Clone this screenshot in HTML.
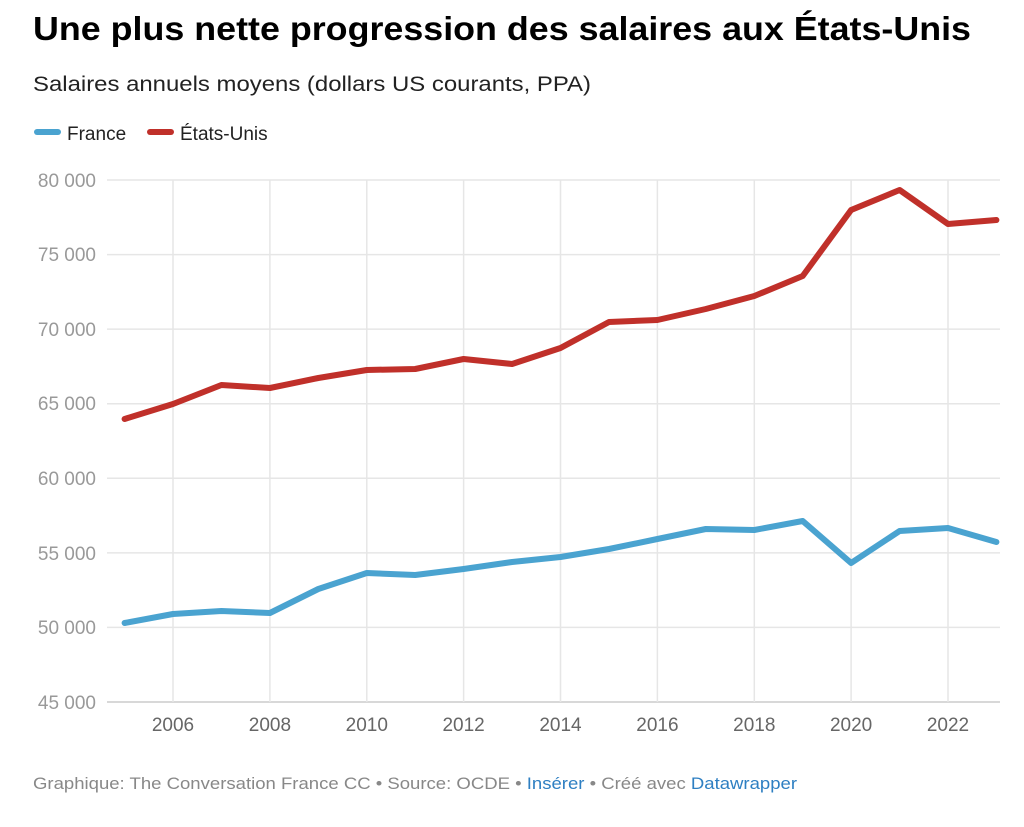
<!DOCTYPE html>
<html><head><meta charset="utf-8"><style>
body{margin:0;background:#fff;width:1024px;height:822px;overflow:hidden;font-family:"Liberation Sans",sans-serif}
</style></head><body>
<svg width="1024" height="822" xmlns="http://www.w3.org/2000/svg" font-family="Liberation Sans, sans-serif">
<text x="33" y="40" font-size="33" font-weight="bold" fill="#000" textLength="938" lengthAdjust="spacingAndGlyphs">Une plus nette progression des salaires aux États-Unis</text>
<text x="33" y="91" font-size="21" fill="#222" textLength="558" lengthAdjust="spacingAndGlyphs">Salaires annuels moyens (dollars US courants, PPA)</text>
<line x1="37" y1="132" x2="58" y2="132" stroke="#4aa3d0" stroke-width="6" stroke-linecap="round"/>
<text x="67" y="140" font-size="19" fill="#222">France</text>
<line x1="150" y1="132" x2="171" y2="132" stroke="#c0302a" stroke-width="6" stroke-linecap="round"/>
<text x="180" y="140" font-size="19" fill="#222">États-Unis</text>
<g stroke="#e6e6e6" stroke-width="1.5">
<line x1="107" y1="180" x2="1000" y2="180"/><line x1="107" y1="254.6" x2="1000" y2="254.6"/>
<line x1="107" y1="329.1" x2="1000" y2="329.1"/><line x1="107" y1="403.7" x2="1000" y2="403.7"/>
<line x1="107" y1="478.3" x2="1000" y2="478.3"/><line x1="107" y1="552.9" x2="1000" y2="552.9"/>
<line x1="107" y1="627.4" x2="1000" y2="627.4"/><line x1="107" y1="702" x2="1000" y2="702" stroke="#ccc"/>
<line x1="173" y1="180" x2="173" y2="702"/><line x1="269.9" y1="180" x2="269.9" y2="702"/>
<line x1="366.8" y1="180" x2="366.8" y2="702"/><line x1="463.6" y1="180" x2="463.6" y2="702"/>
<line x1="560.5" y1="180" x2="560.5" y2="702"/><line x1="657.4" y1="180" x2="657.4" y2="702"/>
<line x1="754.3" y1="180" x2="754.3" y2="702"/><line x1="851.1" y1="180" x2="851.1" y2="702"/>
<line x1="948" y1="180" x2="948" y2="702"/>
</g>
<g font-size="19" fill="#999" text-anchor="end">
<text x="96" y="187">80 000</text><text x="96" y="261">75 000</text><text x="96" y="336">70 000</text>
<text x="96" y="410">65 000</text><text x="96" y="485">60 000</text><text x="96" y="560">55 000</text>
<text x="96" y="634">50 000</text><text x="96" y="709">45 000</text>
</g>
<g font-size="19" fill="#666" text-anchor="middle">
<text x="173" y="731">2006</text><text x="269.9" y="731">2008</text><text x="366.8" y="731">2010</text>
<text x="463.6" y="731">2012</text><text x="560.5" y="731">2014</text><text x="657.4" y="731">2016</text>
<text x="754.3" y="731">2018</text><text x="851.1" y="731">2020</text><text x="948" y="731">2022</text>
</g>
<polyline fill="none" stroke="#c0302a" stroke-width="6" stroke-linejoin="round" stroke-linecap="round" points="124.6,419 173,404 221.4,385 269.9,388 318.3,378 366.8,370 415.2,369 463.6,359 512.1,364 560.5,348 609,322 657.4,320 705.8,309 754.3,296 802.7,276 851.1,210 899.6,190 948,224 996.4,220"/>
<polyline fill="none" stroke="#4aa3d0" stroke-width="6" stroke-linejoin="round" stroke-linecap="round" points="124.6,623 173,614 221.4,611 269.9,613 318.3,589 366.8,573 415.2,575 463.6,569 512.1,562 560.5,557 609,549 657.4,539 705.8,529 754.3,530 802.7,521 851.1,563 899.6,531 948,528 996.4,542"/>
<text x="33" y="789" font-size="16.5" fill="#888" textLength="764" lengthAdjust="spacingAndGlyphs">Graphique: The Conversation France CC • Source: OCDE • <tspan fill="#2e7fc2">Insérer</tspan>  • Créé avec <tspan fill="#2e7fc2">Datawrapper</tspan></text>
</svg>
</body></html>
